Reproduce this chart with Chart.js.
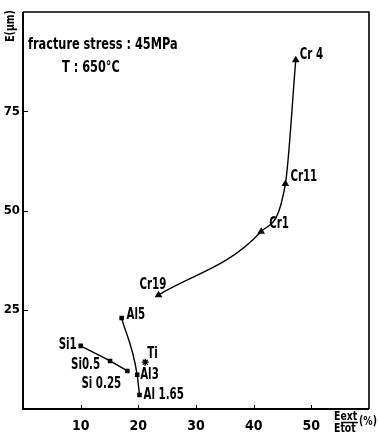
<!DOCTYPE html>
<html><head><meta charset="utf-8">
<script src="https://cdn.jsdelivr.net/npm/chart.js@4/dist/chart.umd.min.js"></script>
<style>html,body{margin:0;padding:0;background:#fff}</style>
</head><body>
<canvas id="c" width="378" height="440"></canvas>
<script>
// Measured points: x = E_ext/E_tot (%), y = E (µm)
const crLabels = ['Cr19', 'Cr1', 'Cr11', 'Cr 4'];
const crX = [23.5, 41.3, 45.5, 47.3];
const crY = [28.7, 44.7, 56.7, 87.9];

const alLabels = ['Al5', 'Al3', 'Al 1.65'];
const alX = [17.1, 19.8, 20.2];
const alY = [22.9, 8.6, 3.5];

const siLabels = ['Si1', 'Si0.5', 'Si 0.25'];
const siX = [10.0, 15.1, 18.1];
const siY = [15.9, 12.1, 9.6];

const tiLabels = ['Ti'];
const tiX = [21.2];
const tiY = [11.8];

const xTicks = [10, 20, 30, 40, 50];
const yTicks = [25, 50, 75];

const FONT = "'Liberation Sans Narrow','DejaVu Sans Condensed',sans-serif";

const pts = (xs, ys) => xs.map((x, i) => ({ x, y: ys[i] }));

// label placement relative to each point, in pixels
const labelOffsets = {
  cr: [[-19, -10], [8, -7], [5, -7], [4, -5]],
  al: [[5, -3], [3, 0], [4, 0]],
  si: [[-22, -1], [-39, 4], [-46, 13]],
  ti: [[2, -8]]
};

// condensed text: squeeze horizontally around the anchor
function text(ctx, s, x, y, align, sx) {
  ctx.save();
  ctx.translate(x, y);
  ctx.scale(sx, 1);
  ctx.textAlign = align;
  ctx.fillText(s, 0, 0);
  ctx.restore();
}

const decor = {
  id: 'decor',
  afterDatasetsDraw(chart) {
    const { ctx, chartArea: a, scales: { x, y } } = chart;
    ctx.save();
    ctx.strokeStyle = '#000';
    ctx.fillStyle = '#000';
    // frame
    ctx.lineWidth = 2;
    ctx.beginPath();
    ctx.moveTo(a.left, a.top); ctx.lineTo(a.left, a.bottom); ctx.lineTo(a.right, a.bottom);
    ctx.stroke();
    ctx.lineWidth = 1.6;
    ctx.beginPath();
    ctx.moveTo(a.left, a.top); ctx.lineTo(a.right, a.top); ctx.lineTo(a.right, a.bottom);
    ctx.stroke();
    // inner tick marks
    ctx.lineWidth = 1;
    xTicks.forEach(v => {
      const px = Math.round(x.getPixelForValue(v)) + 0.5;
      ctx.beginPath(); ctx.moveTo(px, a.bottom); ctx.lineTo(px, a.bottom - 4); ctx.stroke();
    });
    yTicks.forEach(v => {
      const py = Math.round(y.getPixelForValue(v)) + 0.5;
      ctx.beginPath(); ctx.moveTo(a.left, py); ctx.lineTo(a.left + 5, py); ctx.stroke();
    });

    // point labels
    ctx.font = 'bold 15px ' + FONT;
    ctx.textBaseline = 'middle';
    const put = (labels, xs, ys, offs) => {
      labels.forEach((t, i) => {
        const px = x.getPixelForValue(xs[i]);
        const py = y.getPixelForValue(ys[i]);
        text(ctx, t, px + offs[i][0], py + offs[i][1], 'left', 0.76);
      });
    };
    put(crLabels, crX, crY, labelOffsets.cr);
    put(alLabels, alX, alY, labelOffsets.al);
    put(siLabels, siX, siY, labelOffsets.si);
    put(tiLabels, tiX, tiY, labelOffsets.ti);

    // conditions
    ctx.font = 'bold 15px ' + FONT;
    text(ctx, 'fracture stress : 45MPa', 28, 45, 'left', 0.84);
    text(ctx, 'T : 650°C', 62, 68, 'left', 0.84);

    // y title
    ctx.save();
    ctx.translate(11, 26);
    ctx.rotate(-Math.PI / 2);
    ctx.font = 'bold 13px ' + FONT;
    text(ctx, 'E(µm)', 0, 0, 'center', 0.8);
    ctx.restore();

    // x title: E_ext / E_tot (%)
    ctx.font = 'bold 13px ' + FONT;
    text(ctx, 'Eext', 334, 417, 'left', 0.8);
    text(ctx, 'Etot', 334, 429, 'left', 0.8);
    ctx.lineWidth = 1.5;
    ctx.beginPath(); ctx.moveTo(341, 422.5); ctx.lineTo(358, 422.5); ctx.stroke();
    text(ctx, '(%)', 359, 422, 'left', 0.8);
    ctx.restore();
  }
};

new Chart(document.getElementById('c'), {
  type: 'scatter',
  data: {
    datasets: [
      { label: 'Cr', data: pts(crX, crY), showLine: true,
        cubicInterpolationMode: 'monotone',
        borderColor: '#000', backgroundColor: '#000', borderWidth: 1.4,
        pointStyle: 'triangle', pointRadius: 3 },
      { label: 'Al', data: pts(alX, alY), showLine: true,
        cubicInterpolationMode: 'monotone',
        borderColor: '#000', backgroundColor: '#000', borderWidth: 1.4,
        pointStyle: 'rect', pointRadius: 2.2 },
      { label: 'Si', data: pts(siX, siY), showLine: true, tension: 0,
        borderColor: '#000', backgroundColor: '#000', borderWidth: 1.4,
        pointStyle: 'rect', pointRadius: 2.2 },
      { label: 'Ti', data: pts(tiX, tiY), showLine: false,
        borderColor: '#000', backgroundColor: '#000', borderWidth: 1.4,
        pointStyle: 'star', pointRadius: 3.5 }
    ]
  },
  options: {
    responsive: false,
    devicePixelRatio: 1,
    animation: false,
    layout: { padding: { top: 12, right: 2, left: 0, bottom: 0 } },
    plugins: { legend: { display: false }, tooltip: { enabled: false } },
    scales: {
      x: {
        type: 'linear', min: 0, max: 60,
        grid: { display: false, drawTicks: false }, border: { display: false },
        ticks: { stepSize: 10, padding: 9, color: '#000', maxRotation: 0,
          font: { family: FONT, size: 14, weight: 'bold' },
          callback: v => xTicks.includes(v) ? String(v) : '' },
        afterFit: s => { s.height = 31; }
      },
      y: {
        type: 'linear', min: 0, max: 100,
        grid: { display: false, drawTicks: false }, border: { display: false },
        ticks: { stepSize: 25, padding: 3, color: '#000',
          font: { family: FONT, size: 13, weight: 'bold' },
          callback: v => yTicks.includes(v) ? String(v) : '' },
        afterFit: s => { s.width = 23; }
      }
    }
  },
  plugins: [decor]
});
</script>
</body></html>
